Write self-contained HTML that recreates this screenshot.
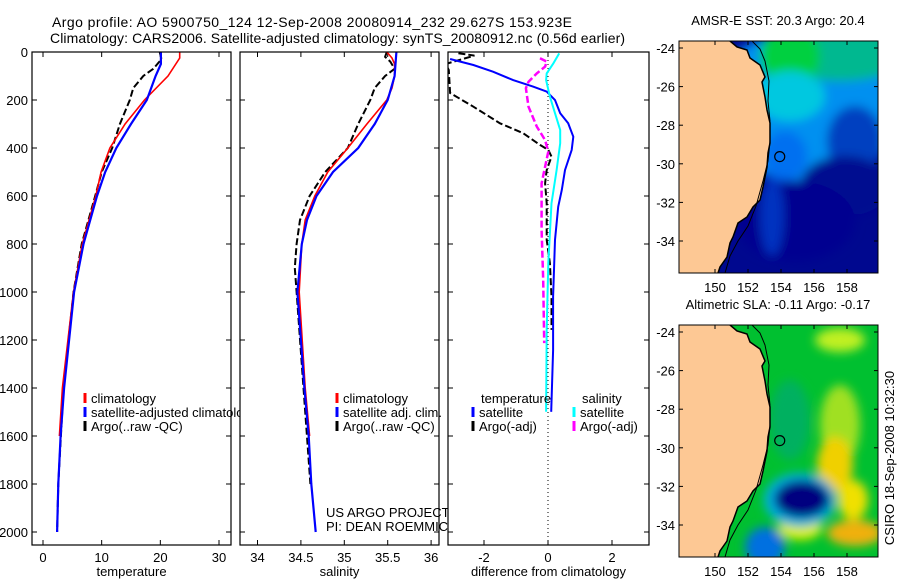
<!DOCTYPE html>
<html><head><meta charset="utf-8"><style>
body{margin:0;background:#fff;}
svg{display:block;font-family:"Liberation Sans",sans-serif;}
text{fill:#000;}
</style></head><body>
<svg id="fig" width="900" height="580" viewBox="0 0 900 580" xmlns="http://www.w3.org/2000/svg">
<defs>
<filter id="blur1" x="-50%" y="-50%" width="200%" height="200%"><feGaussianBlur stdDeviation="5"/></filter>
<clipPath id="cp1"><rect x="32" y="52" width="199" height="493"/></clipPath>
<clipPath id="cp2"><rect x="240" y="52" width="199" height="493"/></clipPath>
<clipPath id="cp3"><rect x="448" y="52" width="201" height="493"/></clipPath>
<clipPath id="cpm1"><rect x="679" y="41" width="199" height="232"/></clipPath>
<clipPath id="cpm2"><rect x="679" y="325" width="199" height="232"/></clipPath>
</defs>
<text x="52" y="27" font-size="14" textLength="520">Argo profile: AO 5900750_124 12-Sep-2008 20080914_232 29.627S 153.923E</text>
<text x="50" y="43" font-size="14" textLength="575">Climatology: CARS2006. Satellite-adjusted climatology: synTS_20080912.nc (0.56d earlier)</text>
<g id="g1"></g>
<g id="g2"></g>
<g id="g3"></g>
<g id="m1"></g>
<g id="m2"></g>
<text transform="translate(894,458) rotate(-90)" font-size="13" text-anchor="middle">CSIRO 18-Sep-2008 10:32:30</text>
</svg>
<script>
// ---- data: temperature panel ----
const tClimDepth=[0,25,100,200,300,400,500,600,800,1000,1400,1600];
const tClimVal=[23.3,23.3,21.3,17.3,14.0,11.4,9.9,9.0,6.7,5.2,3.3,2.8];
const tSatDepth=[0,50,100,200,300,400,500,600,800,1000,1400,1600,1800,2000];
const tSatVal=[20.1,20.1,19.2,17.7,15.0,12.5,10.6,9.2,6.9,5.3,3.6,3.0,2.6,2.4];
const tArgoDepth=[0,30,70,100,150,200,300,400,500,600,800,1000,1400,1800,2000];
const tArgoVal=[19.9,20.2,18.8,17.1,15.4,14.8,13.1,11.8,10.0,8.9,6.6,5.2,3.5,2.6,2.4];
// ---- data: salinity panel ----
const sClimDepth=[0,25,50,100,150,200,300,400,500,600,700,800,1000,1400,1600];
const sClimVal=[35.49,35.55,35.58,35.58,35.55,35.49,35.26,35.04,34.81,34.66,34.55,34.51,34.48,34.55,34.60];
const sSatDepth=[0,100,200,300,400,500,600,700,800,1000,1400,1600,1800,2000];
const sSatVal=[35.60,35.58,35.50,35.35,35.16,34.87,34.68,34.57,34.51,34.46,34.54,34.59,34.62,34.67];
const sArgoDepth=[0,20,40,70,100,150,200,300,400,500,600,700,800,900,1000,1400,1800];
const sArgoVal=[35.49,35.47,35.53,35.58,35.47,35.35,35.30,35.16,35.04,34.78,34.60,34.49,34.45,34.43,34.45,34.53,34.61];
// ---- data: difference panel ----
const dTSatDepth=[29,54,82,117,144,165,200,255,297,353,408,492,575,645,783,1020,1242,1499];
const dTSatVal=[-3.06,-2.33,-1.72,-1.09,-0.47,-0.04,0.22,0.38,0.63,0.79,0.74,0.53,0.43,0.32,0.22,0.16,0.16,0.10];
const dSSatDepth=[6,47,89,117,186,255,325,380,492,630,880,1158,1499];
const dSSatVal=[0.35,0.17,-0.04,-0.06,0.06,0.22,0.38,0.38,0.27,0.11,0.01,-0.04,-0.06];
const dTArgoDepth=[5,15,50,75,171,228,297,338,387,408,436,492,547,630,783,880,1020,1158];
const dTArgoVal=[-2.8,-2.3,-3.2,-3.1,-3.06,-2.33,-1.5,-0.78,-0.25,0.01,0.11,-0.04,-0.09,-0.04,-0.04,0.06,0.11,0.11];
const dSArgoDepth=[26,40,61,89,124,151,228,311,367,415,478,547,742,950,1213];
const dSArgoVal=[-0.25,-0.04,-0.09,-0.35,-0.61,-0.69,-0.61,-0.35,-0.09,0.01,-0.09,-0.20,-0.20,-0.15,-0.12];
// ---- ticks ----
const depthTicks=[0,200,400,600,800,1000,1200,1400,1600,1800,2000];
const tTicks=[0,10,20,30];
const sTicks=[34,34.5,35,35.5,36];
const dTicks=[-2,0,2];
const latTicks=[-24,-26,-28,-30,-32,-34];
const lonTicks=[150,152,154,156,158];
// argo position
const argoLon=[153.923], argoLat=[-29.627];

const NS='http://www.w3.org/2000/svg';
function mk(tag,attrs,parent){const e=document.createElementNS(NS,tag);for(const k in attrs)e.setAttribute(k,attrs[k]);parent.appendChild(e);return e;}
function lin(d0,d1,r0,r1){return v=>r0+(v-d0)*(r1-r0)/(d1-d0);}
const yD=lin(0,2000,52,532);

function panel(g,x0,x1,xs,xt,xlabel,showY,clip){
  mk('rect',{x:x0,y:52,width:x1-x0,height:493,fill:'#fff'},g);
  const ticks=mk('g',{},g);
  
  
  depthTicks.forEach(d=>{const y=yD(d);
    mk('line',{x1:x0,y1:y,x2:x0+5,y2:y,stroke:'#000'},ticks);
    mk('line',{x1:x1-5,y1:y,x2:x1,y2:y,stroke:'#000'},ticks);
    if(showY){const t=mk('text',{x:x0-4,y:y+5,'font-size':13,'text-anchor':'end'},ticks);t.textContent=d;
      
      }
  });
  xt.forEach(v=>{const x=xs(v);
    mk('line',{x1:x,y1:52,x2:x,y2:57,stroke:'#000'},ticks);
    mk('line',{x1:x,y1:540,x2:x,y2:545,stroke:'#000'},ticks);
    const t=mk('text',{x:x,y:562,'font-size':13,'text-anchor':'middle'},ticks);t.textContent=v;
    
    
  });
  const xl=mk('text',{x:(x0+x1)/2,y:576,'font-size':13,'text-anchor':'middle'},g);xl.textContent=xlabel;
  
  
  const cg=mk('g',{'clip-path':'url(#'+clip+')'},g);
  return cg;
}
function series(g,xs,vals,depths,color,w,dash,name){
  const pts=vals.map((v,i)=>xs(v).toFixed(1)+','+yD(depths[i]).toFixed(1)).join(' ');
  const p=mk('polyline',{points:pts,fill:'none',stroke:color,'stroke-width':w},g);
  if(dash)p.setAttribute('stroke-dasharray',dash);
  
  
}
function frame(g,x0,x1){mk('rect',{x:x0,y:52,width:x1-x0,height:493,fill:'none',stroke:'#000','stroke-width':1.2},g);}
function legItem(g,x,y,color,label,name){
  mk('line',{x1:x,y1:y-10,x2:x,y2:y,stroke:color,'stroke-width':3},g);
  const t=mk('text',{x:x+6,y:y,'font-size':13},g);t.textContent=label;
  
  
}

// panel 1
const g1=document.getElementById('g1');
const xT=lin(0,30,43,219);
let c=panel(g1,32,231,xT,tTicks,'temperature',true,'cp1');
series(c,xT,tArgoVal,tArgoDepth,'#000',2,'7,3','argo-temperature-line');
series(c,xT,tClimVal,tClimDepth,'#f00',1.6,null,'climatology-temperature-line');
series(c,xT,tSatVal,tSatDepth,'#00f',2.2,null,'satellite-temperature-line');
legItem(g1,85,403,'#f00','climatology','legend-climatology');
legItem(g1,85,417,'#00f','satellite-adjusted climatology','legend-satellite-adjusted');
legItem(g1,85,431,'#000','Argo(..raw -QC)','legend-argo');
frame(g1,32,231);
// panel 2
const g2=document.getElementById('g2');
const xS=lin(34,36,257.5,431.1);
c=panel(g2,240,439,xS,sTicks,'salinity',false,'cp2');
series(c,xS,sArgoVal,sArgoDepth,'#000',2,'7,3','argo-salinity-line');
series(c,xS,sClimVal,sClimDepth,'#f00',1.6,null,'climatology-salinity-line');
series(c,xS,sSatVal,sSatDepth,'#00f',2.2,null,'satellite-salinity-line');
legItem(g2,337,403,'#f00','climatology','legend-climatology');
legItem(g2,337,417,'#00f','satellite adj. clim.','legend-satellite-adj');
legItem(g2,337,431,'#000','Argo(..raw -QC)','legend-argo');
let t=mk('text',{x:326,y:517,'font-size':13},g2);t.textContent='US ARGO PROJECT';


t=mk('text',{x:326,y:531,'font-size':13},g2);t.textContent='PI: DEAN ROEMMICH';


frame(g2,240,439);
// panel 3
const g3=document.getElementById('g3');
const xDf=lin(-2,2,484,612);
c=panel(g3,448,649,xDf,dTicks,'difference from climatology',false,'cp3');
mk('line',{x1:xDf(0),y1:52,x2:xDf(0),y2:545,stroke:'#000','stroke-dasharray':'1,3'},c);
series(c,xDf,dTArgoVal,dTArgoDepth,'#000',2,'7,3','argo-temperature-diff-line');
series(c,xDf,dSArgoVal,dSArgoDepth,'#f0f',2.5,'7,3','argo-salinity-diff-line');
series(c,xDf,dTSatVal,dTSatDepth,'#00f',2,null,'satellite-temperature-diff-line');
series(c,xDf,dSSatVal,dSSatDepth,'#0ff',2,null,'satellite-salinity-diff-line');
t=mk('text',{x:481,y:403,'font-size':13},g3);t.textContent='temperature';


t=mk('text',{x:582,y:403,'font-size':13},g3);t.textContent='salinity';


legItem(g3,473,417,'#00f','satellite','legend-temp-satellite');
legItem(g3,473,431,'#000','Argo(-adj)','legend-temp-argo');
legItem(g3,574,417,'#0ff','satellite','legend-sal-satellite');
legItem(g3,574,431,'#f0f','Argo(-adj)','legend-sal-argo');
frame(g3,448,649);

// maps
const coast=[[730,0],[737,6],[747,9],[750,17],[760,24],[765,36],[762,41],[765,56],[767,69],[770,82],[770,102],[768,112],[767,126],[763,146],[760,159],[753,166],[747,176],[738,182],[733,196],[730,202],[727,216],[720,226],[718,232]];
const isobath=[[752,0],[760,8],[765,20],[769,40],[768,60],[770,80],[770,100],[768,120],[763,140],[756,165],[748,185],[738,200],[730,215],[725,232]];
function map(id,top,title,blobs,base,clip,lonLblY){
  const g=document.getElementById(id);
  const xL=lin(150,158,715,847), yL=lin(-24,-34,top+7,top+200);
  const tt=mk('text',{x:778,y:top-16,'font-size':13,'text-anchor':'middle'},g);tt.textContent=title;
  
  
  const cg=mk('g',{'clip-path':'url(#'+clip+')'},g);
  mk('rect',{x:679,y:top,width:199,height:232,fill:base},cg);
  const bg=mk('g',{filter:'url(#blur1)'},cg);
  blobs.forEach(b=>mk('ellipse',{cx:b[0],cy:top+b[1],rx:b[2],ry:b[3],fill:b[4]},bg));
  const land=mk('polygon',{points:'679,'+top+' '+coast.map(p=>p[0]+','+(top+p[1])).join(' ')+' 679,'+(top+232),fill:'#fdc894'},cg);
  
  
  mk('polyline',{points:coast.map(p=>p[0]+','+(top+p[1])).join(' '),fill:'none',stroke:'#000','stroke-width':1.5},cg);
  mk('polyline',{points:isobath.map(p=>p[0]+','+(top+p[1])).join(' '),fill:'none',stroke:'#000','stroke-width':1},cg);
  const m=mk('circle',{cx:xL(argoLon[0]),cy:yL(argoLat[0]),r:5,fill:'none',stroke:'#000','stroke-width':1.2},cg);
  
  
  mk('rect',{x:679,y:top,width:199,height:232,fill:'none',stroke:'#000'},g);
  latTicks.forEach(v=>{const y=yL(v);
    mk('line',{x1:679,y1:y,x2:683,y2:y,stroke:'#000'},g);mk('line',{x1:874,y1:y,x2:878,y2:y,stroke:'#000'},g);
    const l=mk('text',{x:675,y:y+5,'font-size':13,'text-anchor':'end'},g);l.textContent=v;
    
    });
  lonTicks.forEach(v=>{const x=xL(v);
    mk('line',{x1:x,y1:top,x2:x,y2:top+4,stroke:'#000'},g);mk('line',{x1:x,y1:top+228,x2:x,y2:top+232,stroke:'#000'},g);
    const l=mk('text',{x:x,y:lonLblY,'font-size':13,'text-anchor':'middle'},g);l.textContent=v;
    
    });
}
map('m1',41,'AMSR-E SST: 20.3 Argo: 20.4',[
 [805,65,100,75,'#0090f0'],[840,12,70,28,'#00b890'],[790,15,30,30,'#00d040'],
 [790,55,35,25,'#00c8e0'],[855,100,28,35,'#0040c0'],[845,145,45,30,'#001090'],
 [785,115,22,25,'#0070f0'],[795,180,60,40,'#000090'],[772,175,12,40,'#0030c0']
],'#00088f','cpm1',292);
map('m2',325,'Altimetric SLA: -0.11 Argo: -0.17',[
 [840,15,25,12,'#c0f020'],[840,100,20,40,'#a0e020'],[835,140,18,28,'#f0d000'],[853,175,15,20,'#f0e000'],
 [855,208,28,13,'#f0b010'],[800,203,22,12,'#e0f000'],
 [800,175,36,27,'#00b0e0'],[802,174,28,19,'#000080'],
 [765,222,20,20,'#0070e0'],[790,95,20,40,'#00b060']
],'#00c030','cpm2',576);
</script>
</body></html>
